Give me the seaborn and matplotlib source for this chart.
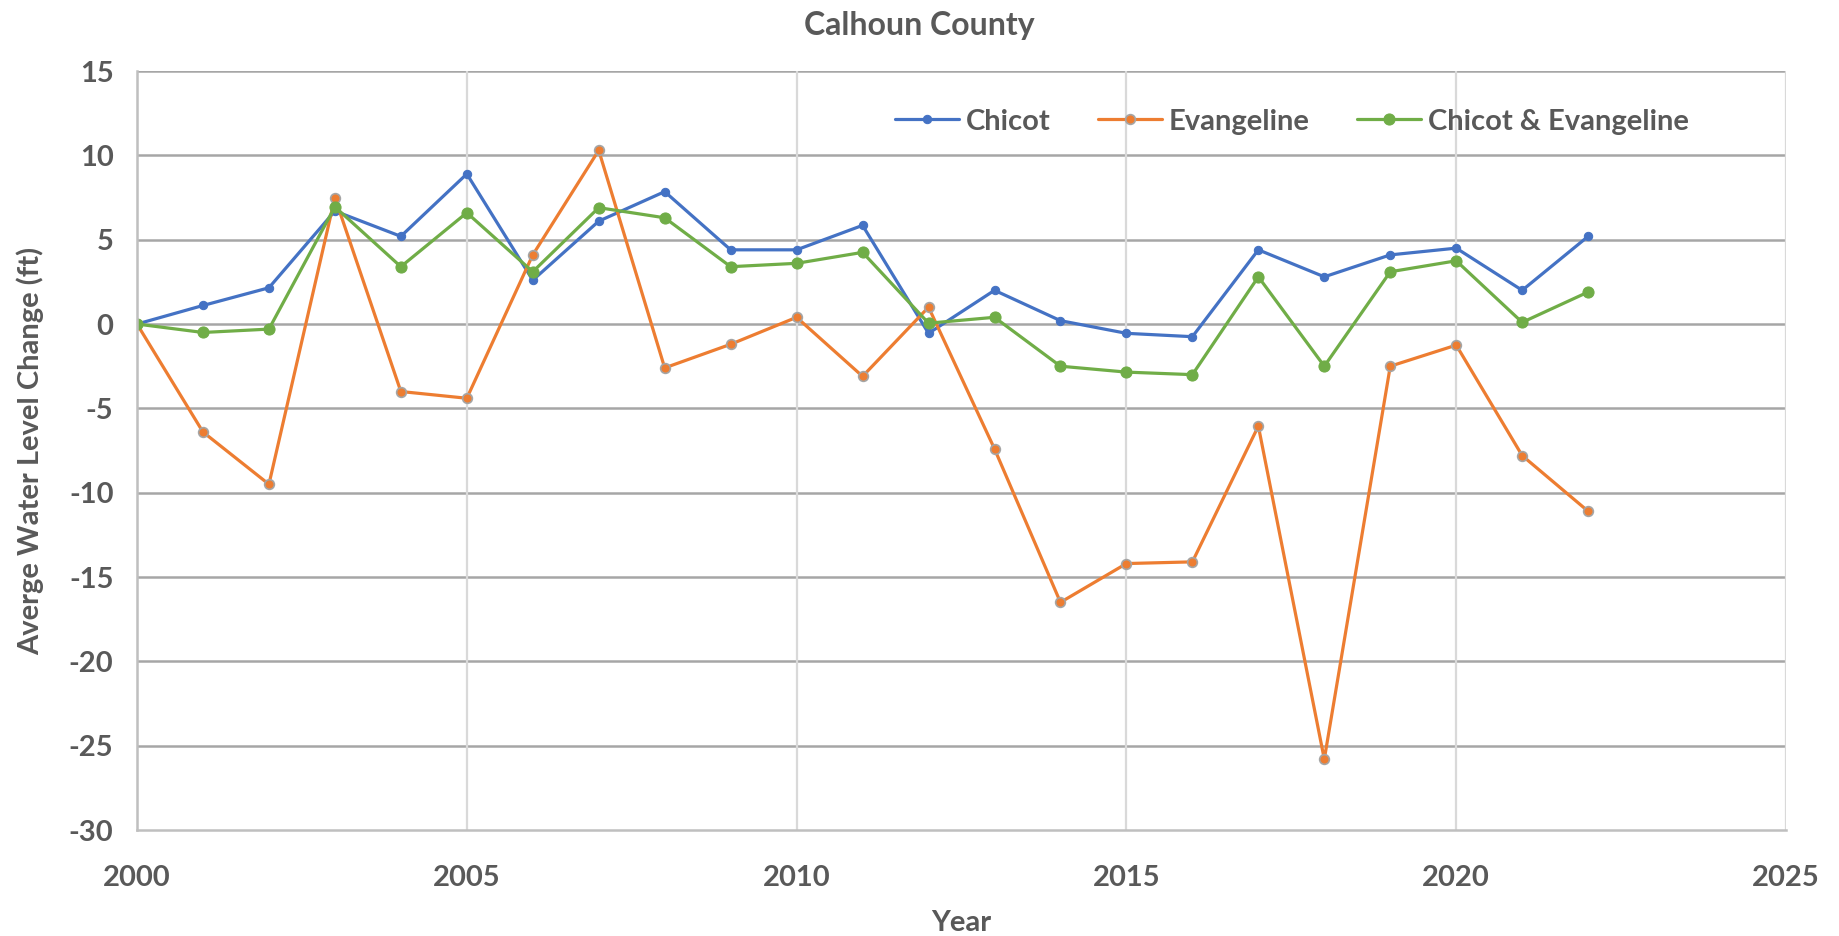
"""Calhoun County average water level change by aquifer."""

import numpy as np
import pandas as pd
import matplotlib.pyplot as plt
from matplotlib.ticker import MultipleLocator
import seaborn as sns

YEARS = list(range(2000, 2023))
CHICOT = [0, 1.1, 2.15, 6.7, 5.2, 8.9, 2.6, 6.1, 7.85, 4.4, 4.4, 5.85,
          -0.55, 2.0, 0.2, -0.55, -0.75, 4.4, 2.8, 4.1, 4.5, 2.0, 5.2]
EVANGELINE = [0, -6.4, -9.5, 7.5, -4.0, -4.4, 4.1, 10.3, -2.6, -1.2, 0.4, -3.1,
              1.0, -7.4, -16.5, -14.2, -14.1, -6.05, -25.8, -2.5, -1.25, -7.8, -11.1]
COMBINED = [0, -0.5, -0.3, 6.95, 3.4, 6.6, 3.1, 6.9, 6.3, 3.4, 3.6, 4.25,
            0.05, 0.4, -2.5, -2.85, -3.0, 2.8, -2.5, 3.1, 3.75, 0.1, 1.9]
SERIES = ["Chicot", "Evangeline", "Chicot & Evangeline"]
COLORS = {"Chicot": "#4472C4", "Evangeline": "#ED7D31", "Chicot & Evangeline": "#70AD47"}
TEXT = "#595959"


def build_frame():
    parts = []
    for name, vals in zip(SERIES, [CHICOT, EVANGELINE, COMBINED]):
        parts.append(pd.DataFrame({"Year": YEARS, "change": vals, "series": name}))
    return pd.concat(parts, ignore_index=True)


def main():
    sns.set_theme(style="white")
    plt.rcParams["font.family"] = ["Lato", "DejaVu Sans"]
    plt.rcParams["axes.unicode_minus"] = False
    df = build_frame()

    fig = plt.figure(figsize=(18.39, 9.36), dpi=100)
    ax = fig.add_axes([0.0745, 0.1132, 0.8967, 0.8109])

    marker_style = {
        "Chicot": dict(markersize=6, markeredgecolor="#4472C4"),
        "Evangeline": dict(markersize=7, markeredgecolor="#A5A5A5", markeredgewidth=1.2),
        "Chicot & Evangeline": dict(markersize=8, markeredgecolor="#70AD47"),
    }
    for name in SERIES:
        sub = df[df["series"] == name]
        sns.lineplot(data=sub, x="Year", y="change", color=COLORS[name], marker="o",
                     linewidth=2.3, label=name, ax=ax, **marker_style[name])

    ax.set_xlim(2000, 2025)
    ax.set_ylim(-30, 15)
    ax.xaxis.set_major_locator(MultipleLocator(5))
    ax.xaxis.set_minor_locator(MultipleLocator(1))
    ax.yaxis.set_major_locator(MultipleLocator(5))
    ax.yaxis.set_minor_locator(MultipleLocator(1))

    ax.grid(False)
    for y in np.arange(-25, 16, 5):
        ax.axhline(y, color="#A6A6A6", linewidth=1.8, zorder=0)
    for x in np.arange(2005, 2026, 5):
        ax.axvline(x, color="#D9D9D9", linewidth=1.6, zorder=0)

    for side in ["top", "right"]:
        ax.spines[side].set_visible(False)
    for side in ["left", "bottom"]:
        ax.spines[side].set_color("#BFBFBF")
        ax.spines[side].set_linewidth(1.8)

    ax.tick_params(axis="both", which="major", direction="inout", length=14, width=1.5,
                   color="#BFBFBF", labelsize=21, labelcolor=TEXT)
    ax.tick_params(axis="both", which="minor", direction="in", length=8, width=1.2,
                   color="#BFBFBF")
    ax.tick_params(axis="x", which="major", pad=18)
    ax.tick_params(axis="y", which="major", pad=10)
    for lab in ax.get_xticklabels() + ax.get_yticklabels():
        lab.set_fontweight("bold")

    ax.set_xlabel("Year", fontsize=21, fontweight="bold", color=TEXT, labelpad=14)
    ax.set_ylabel("Averge Water Level Change (ft)", fontsize=21, fontweight="bold",
                  color=TEXT, labelpad=18)
    fig.suptitle("Calhoun County", fontsize=23, fontweight="bold", color=TEXT, y=0.988)

    leg = ax.legend(loc="upper right", bbox_to_anchor=(0.957, 0.985), ncol=3, frameon=False,
                    fontsize=21, handlelength=2.2, handletextpad=0.25, columnspacing=1.6)
    for text in leg.get_texts():
        text.set_color(TEXT)
        text.set_fontweight("bold")

    fig.savefig("out.png", dpi=100)
    plt.close(fig)


if __name__ == "__main__":
    main()
